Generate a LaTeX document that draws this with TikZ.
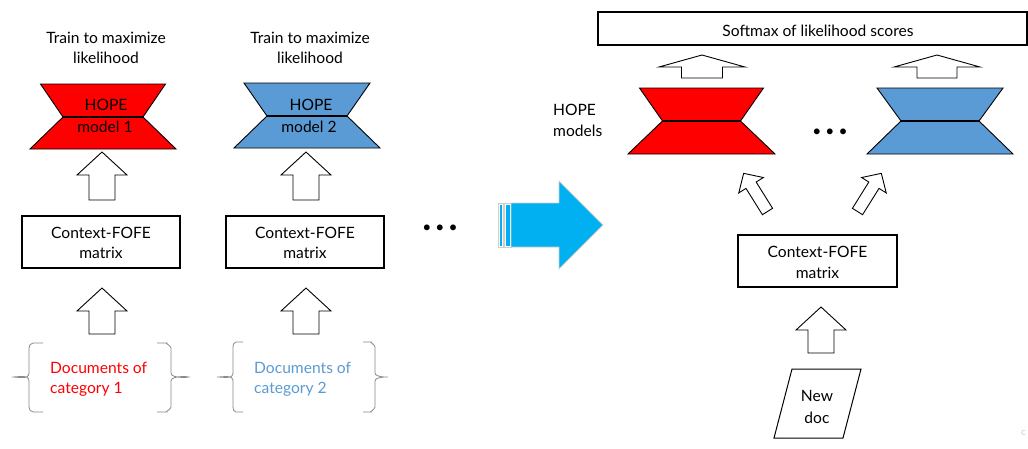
\documentclass[tikz,border=0pt]{standalone}
\usepackage{fontspec}
\setmainfont{Lato}
\definecolor{hopered}{HTML}{FF0000}
\definecolor{hopeblue}{HTML}{5B9BD5}
\definecolor{bigblue}{HTML}{00B0F0}
\definecolor{bracegray}{HTML}{8A8A8A}
\definecolor{rimgray}{HTML}{CFCFCF}

% block arrow: tail point, direction angle, length, shaft half-width, head half-width, head length
\newcommand{\blkarrow}[6]{%
  \draw[blk, shift={#1}, rotate=#2] (0,-#4) -- ({#3-#6},-#4) -- ({#3-#6},-#5) -- (#3,0)
    -- ({#3-#6},#5) -- ({#3-#6},#4) -- (0,#4) -- cycle;}

% hourglass model: fill, centre x, top y, middle y, bottom y, top/middle/bottom half-widths
\newcommand{\hourglass}[8]{%
  \filldraw[hg, fill=#1] ({#2-#6},#3) -- ({#2+#6},#3) -- ({#2+#7},#4) -- ({#2-#7},#4) -- cycle;
  \filldraw[hg, fill=#1] ({#2-#7},#4) -- ({#2+#7},#4) -- ({#2+#8},#5) -- ({#2-#8},#5) -- cycle;
  \draw[line width=1.8pt] ({#2-#7},#4) -- ({#2+#7},#4);}

% curly bracket (tip x, stem x, end x, top y, mid y, bottom y)
\newcommand{\curly}[6]{%
  \pgfmathsetmacro{\cbk}{#2+0.3*(#3-#2)}%
  \pgfmathsetmacro{\cya}{#4+5}%
  \pgfmathsetmacro{\cyb}{#5-4}%
  \pgfmathsetmacro{\cyc}{#5+4}%
  \pgfmathsetmacro{\cyd}{#6-5}%
  \draw[brace] (#3,#4) -- (\cbk,#4) to[out=180,in=90] (#2,\cya) -- (#2,\cyb)
    to[out=-90,in=0] (#1,#5) to[out=0,in=90] (#2,\cyc) -- (#2,\cyd)
    to[out=-90,in=180] (\cbk,#6) -- (#3,#6);}

\tikzset{
  txt/.style={font=\fontsize{15.6}{19}\selectfont, align=center, inner sep=0pt},
  box/.style={draw, line width=1.1pt, inner sep=0pt},
  blk/.style={draw, line width=0.9pt, fill=white, line join=miter},
  hg/.style={draw, line width=0.9pt},
  brace/.style={draw=bracegray, line width=0.8pt},
}

\begin{document}
\begin{tikzpicture}[x=1pt, y=-1pt]
\useasboundingbox (0,0) rectangle (1028,448);
\fill[white] (0,0) rectangle (1028,448);

% ---------- training side, category 1 ----------
\node[txt] (train1a) at (106,38) {Train to maximize};
\node[txt] (train1b) at (106,58) {likelihood};
\hourglass{hopered}{103}{84}{117}{149}{62.5}{40}{73}
\node[txt] (hope1) at (106,105) {HOPE};
\node[txt] (model1) at (105,127) {model 1};
\node[box, minimum width=158pt, minimum height=52pt] (ctx1) at (101,242) {};
\node[txt] (ctx1a) at (101,233) {Context-FOFE};
\node[txt] (ctx1b) at (101,253) {matrix};
\coordinate (a1tail) at (102,200);
\blkarrow{(a1tail)}{90}{48}{13}{25}{23}
\coordinate (a2tail) at (102,334);
\blkarrow{(a2tail)}{90}{46}{13}{25}{23}
\curly{12}{29}{43}{343}{377}{412}
\curly{187}{171}{157}{343}{377}{412}
\node[txt, align=left, anchor=west, text=hopered] (doc1a) at (50,368) {Documents of};
\node[txt, align=left, anchor=west, text=hopered] (doc1b) at (50,389) {category 1};

% ---------- training side, category 2 ----------
\node[txt] (train2a) at (310,38) {Train to maximize};
\node[txt] (train2b) at (310,58) {likelihood};
\hourglass{hopeblue}{307}{83}{116}{148}{63}{40}{73}
\node[txt] (hope2) at (311,105) {HOPE};
\node[txt] (model2) at (309,127) {model 2};
\node[box, minimum width=158pt, minimum height=52pt] (ctx2) at (305,242) {};
\node[txt] (ctx2a) at (305,233) {Context-FOFE};
\node[txt] (ctx2b) at (305,253) {matrix};
\coordinate (a3tail) at (306,200);
\blkarrow{(a3tail)}{90}{48}{13}{25}{23}
\coordinate (a4tail) at (306,334);
\blkarrow{(a4tail)}{90}{46}{13}{25}{23}
\curly{217}{233}{243}{342}{377}{412}
\curly{387}{375}{363}{342}{377}{412}
\node[txt, align=left, anchor=west, text=hopeblue] (doc2a) at (254,368) {Documents of};
\node[txt, align=left, anchor=west, text=hopeblue] (doc2b) at (254,389) {category 2};

\node[txt] (dotsL) at (440,229) {\textbullet\hspace{4pt}\textbullet\hspace{4pt}\textbullet};

% ---------- transition arrow ----------
\filldraw[fill=white, draw=rimgray, line width=0.8pt] (498,203) rectangle (503.5,247);
\fill[bigblue] (500,204.5) rectangle (502,245.5);
\filldraw[fill=white, draw=rimgray, line width=0.8pt] (504,203) rectangle (511,247);
\fill[bigblue] (506,204.5) rectangle (509.5,245.5);
\filldraw[fill=bigblue, draw=rimgray, line width=0.8pt]
  (511,203) -- (559,203) -- (559,181) -- (603,225) -- (559,269) -- (559,247) -- (511,247) -- cycle;

% ---------- classification side ----------
\node[box, minimum width=429pt, minimum height=33pt] (softmax) at (812.5,28.5) {};
\node[txt] (softmaxt) at (818,31) {Softmax of likelihood scores};
\blkarrow{(702,78)}{90}{23}{20.5}{43}{12}
\blkarrow{(937,78)}{90}{23}{20}{43}{12}
\node[txt, align=left, anchor=west] (hopem1) at (553,110) {HOPE};
\node[txt, align=left, anchor=west] (hopem2) at (553,131) {models};
\hourglass{hopered}{701.5}{88}{121}{154}{62}{39}{73.5}
\hourglass{hopeblue}{940}{88}{121}{154}{63}{39}{73}
\node[txt] (dotsR) at (830,133) {\textbullet\hspace{4pt}\textbullet\hspace{4pt}\textbullet};
\coordinate (t1tail) at (767.5,211.5);
\blkarrow{(t1tail)}{122}{45}{6}{14.5}{14}
\coordinate (t2tail) at (857.5,211.5);
\blkarrow{(t2tail)}{58}{45}{6}{14.5}{14}
\node[box, minimum width=159pt, minimum height=52pt] (ctx3) at (817.5,261) {};
\node[txt] (ctx3a) at (817.5,252) {Context-FOFE};
\node[txt] (ctx3b) at (817.5,273) {matrix};
\coordinate (a5tail) at (821,353);
\blkarrow{(a5tail)}{90}{46}{13}{25}{23}
\draw[line width=1pt] (792,369) -- (861,369) -- (843,438) -- (774,438) -- cycle;
\node[txt] (newdoc1) at (817,396) {New};
\node[txt] (newdoc2) at (817,418) {doc};
\node[font=\fontsize{10}{10}\selectfont, text=rimgray, anchor=west, inner sep=0pt] (edgec) at (1021,433) {c};
\end{tikzpicture}
\end{document}
